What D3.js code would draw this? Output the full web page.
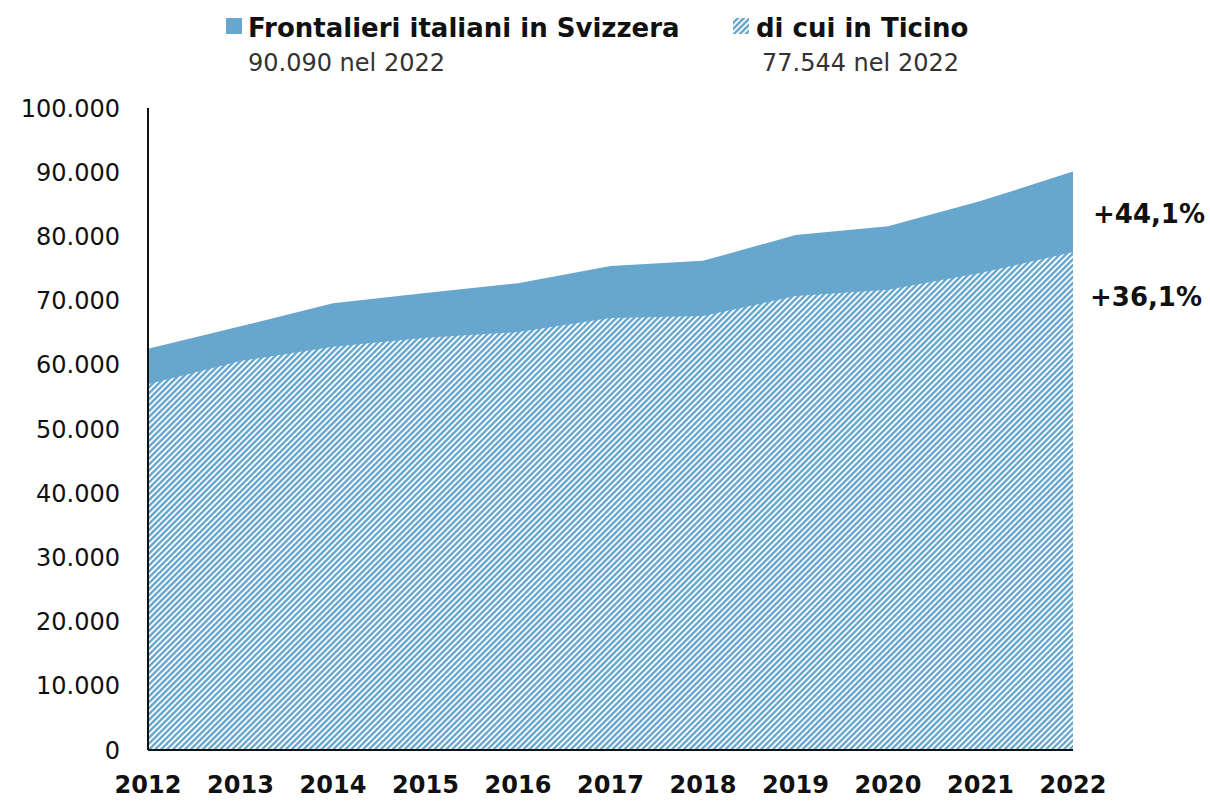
<!DOCTYPE html>
<html>
<head>
<meta charset="utf-8">
<title>Frontalieri</title>
<script src="https://cdnjs.cloudflare.com/ajax/libs/d3/7.8.5/d3.min.js"></script>
<style>
body { margin: 0; background: #fff; }
text { font-family: "DejaVu Sans", sans-serif; fill: #111; }
</style>
</head>
<body>
<svg id="chart" width="1210" height="801"></svg>
<script>
var years = [2012, 2013, 2014, 2015, 2016, 2017, 2018, 2019, 2020, 2021, 2022];
var totale = [62519, 66000, 69600, 71200, 72700, 75400, 76200, 80200, 81600, 85500, 90090];
var ticino = [56976, 60600, 62800, 64200, 65100, 67300, 67600, 70700, 71700, 74300, 77544];
var yTicks = [0, 10000, 20000, 30000, 40000, 50000, 60000, 70000, 80000, 90000, 100000];
var variazioni = ["+44,1%", "+36,1%"];

var blue = "#67a6cd";
function itNum(v) { return d3.format(",")(v).replace(/,/g, "."); }

var svg = d3.select("#chart");

// tratteggio per il Ticino
var defs = svg.append("defs");
var pat = defs.append("pattern")
  .attr("id", "hatch")
  .attr("patternUnits", "userSpaceOnUse")
  .attr("width", 4.2)
  .attr("height", 4.2)
  .attr("patternTransform", "rotate(45)");
pat.append("rect").attr("width", 4.2).attr("height", 4.2).attr("fill", "#fff");
pat.append("rect").attr("width", 2.4).attr("height", 4.2).attr("fill", blue);

var x = d3.scaleLinear().domain([2012, 2022]).range([148, 1073]);
var y = d3.scaleLinear().domain([0, 100000]).range([750, 108]);

var area = d3.area()
  .x(function(d, i) { return x(years[i]); })
  .y0(y(0))
  .y1(function(d) { return y(d); });

svg.append("path").datum(totale).attr("d", area).attr("fill", blue);
svg.append("path").datum(ticino).attr("d", area).attr("fill", "url(#hatch)");

// assi
svg.append("line").attr("x1", 148).attr("x2", 148).attr("y1", y(100000)).attr("y2", y(0))
  .attr("stroke", "#111").attr("stroke-width", 2);
svg.append("line").attr("x1", 148).attr("x2", x(2022)).attr("y1", y(0)).attr("y2", y(0))
  .attr("stroke", "#111").attr("stroke-width", 2);

svg.selectAll(".ytick").data(yTicks).enter().append("text")
  .attr("class", "ytick")
  .attr("x", 120)
  .attr("y", function(d) { return y(d); })
  .attr("dy", "0.36em")
  .attr("text-anchor", "end")
  .style("font-size", "24px")
  .text(function(d) { return itNum(d); });

svg.selectAll(".xtick").data(years).enter().append("text")
  .attr("class", "xtick")
  .attr("x", function(d) { return x(d); })
  .attr("y", 793)
  .attr("text-anchor", "middle")
  .style("font-size", "24px")
  .style("font-weight", "bold")
  .text(function(d) { return d; });

// etichette variazione
svg.append("text").attr("x", 1205).attr("y", 223).attr("text-anchor", "end")
  .style("font-size", "26px").style("font-weight", "bold").text(variazioni[0]);
svg.append("text").attr("x", 1202).attr("y", 306).attr("text-anchor", "end")
  .style("font-size", "26px").style("font-weight", "bold").text(variazioni[1]);

// legenda
svg.append("rect").attr("x", 226).attr("y", 18).attr("width", 16).attr("height", 16).attr("fill", blue);
svg.append("text").attr("x", 248).attr("y", 37).style("font-size", "26px").style("font-weight", "bold")
  .text("Frontalieri italiani in Svizzera");
svg.append("text").attr("x", 248).attr("y", 71).style("font-size", "24px").style("fill", "#333")
  .text(itNum(totale[10]) + " nel 2022");

svg.append("rect").attr("x", 733).attr("y", 18).attr("width", 16).attr("height", 16).attr("fill", "url(#hatch)");
svg.append("text").attr("x", 756).attr("y", 37).style("font-size", "26px").style("font-weight", "bold")
  .text("di cui in Ticino");
svg.append("text").attr("x", 762).attr("y", 71).style("font-size", "24px").style("fill", "#333")
  .text(itNum(ticino[10]) + " nel 2022");
</script>
</body>
</html>
